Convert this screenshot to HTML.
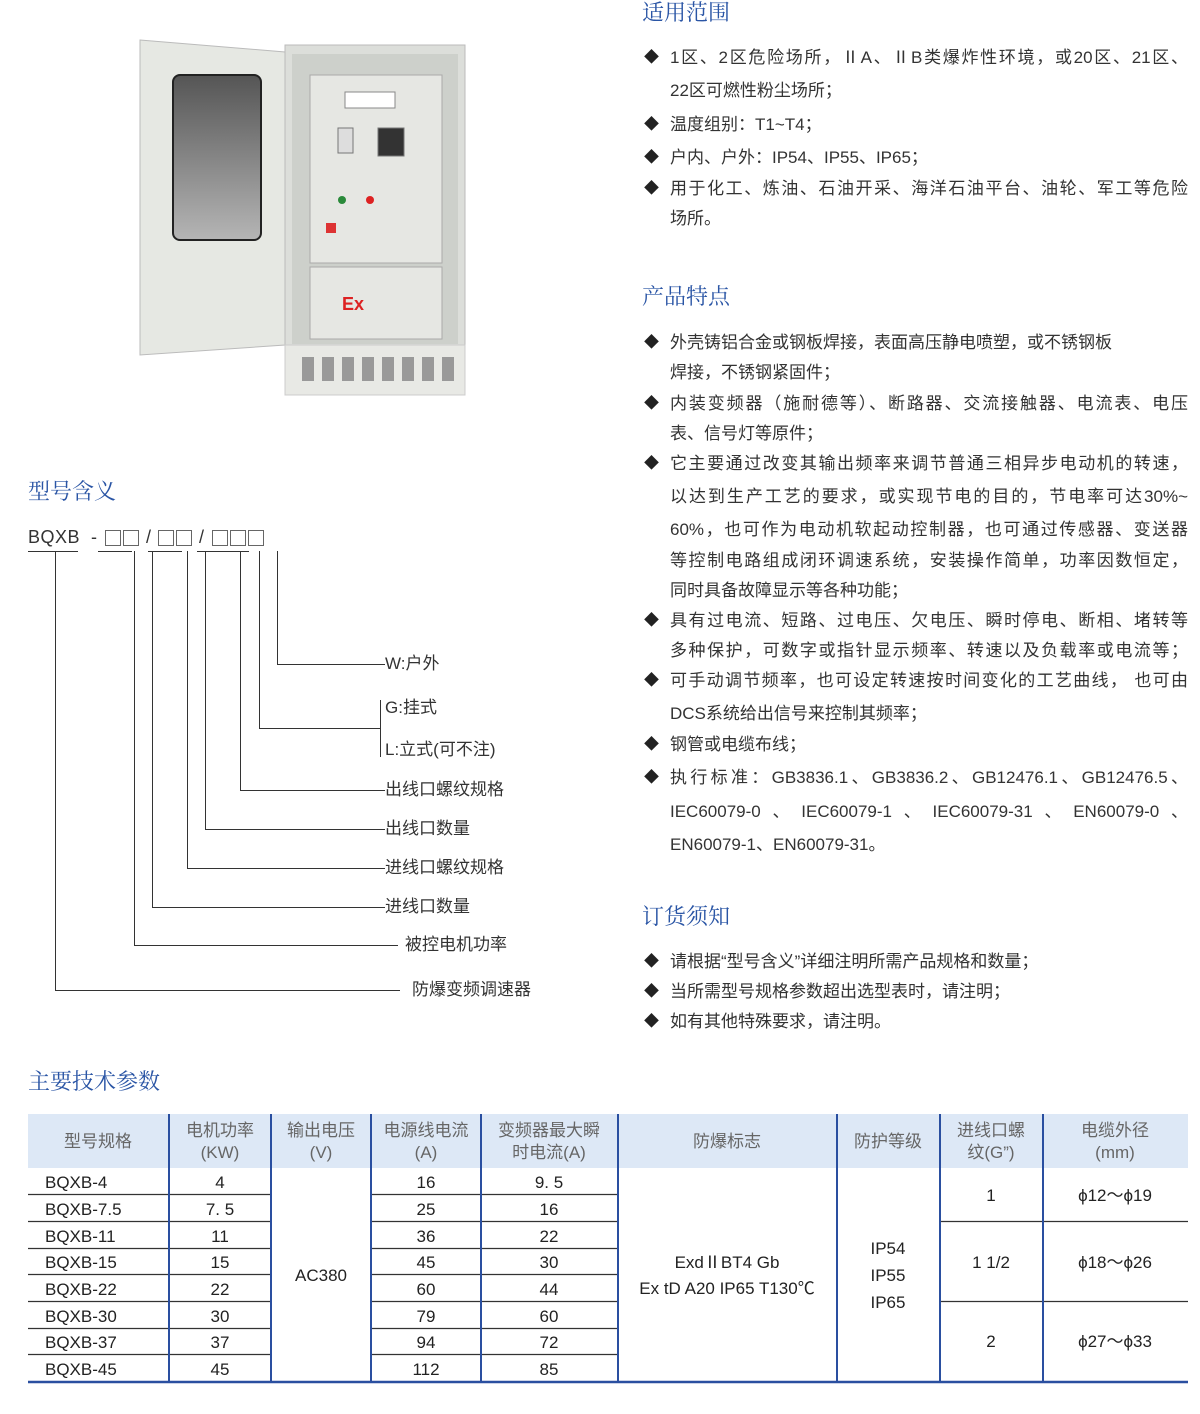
<!DOCTYPE html>
<html><head><meta charset="utf-8"><style>
*{margin:0;padding:0;box-sizing:border-box}
body{width:1200px;height:1414px;background:#fff;position:relative;overflow:hidden;font-family:"Liberation Sans","Noto Sans CJK SC",sans-serif;color:#333}
.a{position:absolute;white-space:nowrap}
.h{position:absolute;font-family:"Liberation Serif","Noto Serif CJK SC",serif;color:#2a55a5;font-size:22px;line-height:26px}
.l{position:absolute;left:670px;font-size:17px;line-height:22px;white-space:nowrap;color:#333}
.j{width:518px;text-align:justify;text-align-last:justify}
.d{position:absolute;left:644px;font-size:15px;line-height:22px;color:#222}
.ln{position:absolute;background:#333}
.lb{position:absolute;font-size:17px;line-height:22px;white-space:nowrap;color:#333}
.bx{position:absolute;top:530px;width:16px;height:16px;border:1px solid #666}
</style></head><body>

<!-- cabinet -->
<svg class="a" style="left:130px;top:30px" width="350" height="380" viewBox="0 0 350 380">
 <defs><linearGradient id="g" x1="0" y1="0" x2="0" y2="1"><stop offset="0" stop-color="#555"/><stop offset="1" stop-color="#b5b5b5"/></linearGradient></defs>
 <polygon points="10,10 155,22 155,315 10,325" fill="#e6e8e3" stroke="#bbb"/>
 <rect x="43" y="45" width="88" height="165" rx="7" fill="url(#g)" stroke="#222" stroke-width="2"/>
 <rect x="155" y="15" width="180" height="300" fill="#dcdeda" stroke="#bbb"/>
 <rect x="162" y="24" width="166" height="290" fill="#cdd0cb"/>
 <rect x="180" y="45" width="132" height="188" fill="#e6e7e3" stroke="#aaa"/>
 <rect x="180" y="237" width="132" height="72" fill="#e6e7e3" stroke="#aaa"/>
 <rect x="215" y="62" width="50" height="16" fill="#fff" stroke="#888"/>
 <rect x="208" y="98" width="15" height="25" fill="#ddd" stroke="#777"/>
 <rect x="248" y="98" width="26" height="28" fill="#333" stroke="#777"/>
 <circle cx="212" cy="170" r="4" fill="#2a8a3a"/><circle cx="240" cy="170" r="4" fill="#d22"/>
 <rect x="196" y="193" width="10" height="10" fill="#d33"/>
 <text x="212" y="280" fill="#d22" font-size="18" font-weight="bold" font-family="Liberation Sans">Ex</text>
 <rect x="155" y="315" width="180" height="50" fill="#e8e9e5" stroke="#ccc"/>
 <g fill="#999"><rect x="172" y="327" width="12" height="24"/><rect x="192" y="327" width="12" height="24"/><rect x="212" y="327" width="12" height="24"/><rect x="232" y="327" width="12" height="24"/><rect x="252" y="327" width="12" height="24"/><rect x="272" y="327" width="12" height="24"/><rect x="292" y="327" width="12" height="24"/><rect x="312" y="327" width="12" height="24"/></g>
</svg>

<!-- right sections -->
<div class="h" style="left:642px;top:0px">适用范围</div>
<div class="d" style="top:47px">◆</div><div class="l j" style="top:47px">1区、2区危险场所，ⅡA、ⅡB类爆炸性环境，或20区、21区、</div>
<div class="l" style="top:80px">22区可燃性粉尘场所；</div>
<div class="d" style="top:114px">◆</div><div class="l" style="top:114px">温度组别：T1~T4；</div>
<div class="d" style="top:147px">◆</div><div class="l" style="top:147px">户内、户外：IP54、IP55、IP65；</div>
<div class="d" style="top:178px">◆</div><div class="l j" style="top:178px">用于化工、炼油、石油开采、海洋石油平台、油轮、军工等危险</div>
<div class="l" style="top:208px">场所。</div>

<div class="h" style="left:642px;top:284px">产品特点</div>
<div class="d" style="top:332px">◆</div><div class="l" style="top:332px">外壳铸铝合金或钢板焊接，表面高压静电喷塑，或不锈钢板</div>
<div class="l" style="top:362px">焊接，不锈钢紧固件；</div>
<div class="d" style="top:393px">◆</div><div class="l j" style="top:393px">内装变频器（施耐德等）、断路器、交流接触器、电流表、电压</div>
<div class="l" style="top:423px">表、信号灯等原件；</div>
<div class="d" style="top:453px">◆</div><div class="l j" style="top:453px">它主要通过改变其输出频率来调节普通三相异步电动机的转速，</div>
<div class="l j" style="top:486px">以达到生产工艺的要求，或实现节电的目的，节电率可达30%~</div>
<div class="l j" style="top:519px">60%，也可作为电动机软起动控制器，也可通过传感器、变送器</div>
<div class="l j" style="top:550px">等控制电路组成闭环调速系统，安装操作简单，功率因数恒定，</div>
<div class="l" style="top:580px">同时具备故障显示等各种功能；</div>
<div class="d" style="top:610px">◆</div><div class="l j" style="top:610px">具有过电流、短路、过电压、欠电压、瞬时停电、断相、堵转等</div>
<div class="l j" style="top:640px">多种保护，可数字或指针显示频率、转速以及负载率或电流等；</div>
<div class="d" style="top:670px">◆</div><div class="l j" style="top:670px">可手动调节频率，也可设定转速按时间变化的工艺曲线，&nbsp;也可由</div>
<div class="l" style="top:703px">DCS系统给出信号来控制其频率；</div>
<div class="d" style="top:734px">◆</div><div class="l" style="top:734px">钢管或电缆布线；</div>
<div class="d" style="top:767px">◆</div><div class="l j" style="top:767px">执行标准：GB3836.1、GB3836.2、GB12476.1、GB12476.5、</div>
<div class="l j" style="top:801px">IEC60079-0、IEC60079-1、IEC60079-31、EN60079-0、</div>
<div class="l" style="top:834px">EN60079-1、EN60079-31。</div>

<div class="h" style="left:642px;top:904px">订货须知</div>
<div class="d" style="top:951px">◆</div><div class="l" style="top:951px">请根据“型号含义”详细注明所需产品规格和数量；</div>
<div class="d" style="top:981px">◆</div><div class="l" style="top:981px">当所需型号规格参数超出选型表时，请注明；</div>
<div class="d" style="top:1011px">◆</div><div class="l" style="top:1011px">如有其他特殊要求，请注明。</div>

<!-- model meaning -->
<div class="h" style="left:28px;top:479px">型号含义</div>
<div class="lb" style="left:28px;top:526px;font-size:18px;letter-spacing:0.5px">BQXB&nbsp;&nbsp;-</div>
<div class="bx" style="left:105px"></div><div class="bx" style="left:123px"></div>
<div class="lb" style="left:146px;top:526px;font-size:18px">/</div>
<div class="bx" style="left:158px"></div><div class="bx" style="left:176px"></div>
<div class="lb" style="left:199px;top:526px;font-size:18px">/</div>
<div class="bx" style="left:212px"></div><div class="bx" style="left:230px"></div><div class="bx" style="left:248px"></div>
<!-- underlines -->
<div class="ln" style="left:28px;top:551px;width:50px;height:1px"></div>
<div class="ln" style="left:98px;top:551px;width:34px;height:1px"></div>
<div class="ln" style="left:148px;top:551px;width:34px;height:1px"></div>
<div class="ln" style="left:197px;top:551px;width:52px;height:1px"></div>
<!-- verticals -->
<div class="ln" style="left:55px;top:551px;width:1px;height:440px"></div>
<div class="ln" style="left:55px;top:990px;width:345px;height:1px"></div>
<div class="ln" style="left:134px;top:551px;width:1px;height:395px"></div>
<div class="ln" style="left:134px;top:945px;width:264px;height:1px"></div>
<div class="ln" style="left:152px;top:551px;width:1px;height:357px"></div>
<div class="ln" style="left:152px;top:907px;width:233px;height:1px"></div>
<div class="ln" style="left:187px;top:551px;width:1px;height:318px"></div>
<div class="ln" style="left:187px;top:868px;width:198px;height:1px"></div>
<div class="ln" style="left:205px;top:551px;width:1px;height:279px"></div>
<div class="ln" style="left:205px;top:829px;width:180px;height:1px"></div>
<div class="ln" style="left:240px;top:551px;width:1px;height:240px"></div>
<div class="ln" style="left:240px;top:790px;width:145px;height:1px"></div>
<div class="ln" style="left:259px;top:551px;width:1px;height:178px"></div>
<div class="ln" style="left:259px;top:728px;width:121px;height:1px"></div>
<div class="ln" style="left:380px;top:700px;width:1px;height:57px"></div>
<div class="ln" style="left:277px;top:551px;width:1px;height:113px"></div>
<div class="ln" style="left:277px;top:664px;width:108px;height:1px"></div>
<div class="lb" style="left:385px;top:653px">W:户外</div>
<div class="lb" style="left:385px;top:697px">G:挂式</div>
<div class="lb" style="left:385px;top:739px">L:立式(可不注)</div>
<div class="lb" style="left:385px;top:779px">出线口螺纹规格</div>
<div class="lb" style="left:385px;top:818px">出线口数量</div>
<div class="lb" style="left:385px;top:857px">进线口螺纹规格</div>
<div class="lb" style="left:385px;top:896px">进线口数量</div>
<div class="lb" style="left:405px;top:934px">被控电机功率</div>
<div class="lb" style="left:412px;top:979px">防爆变频调速器</div>

<!-- table -->
<div class="h" style="left:28px;top:1069px">主要技术参数</div>
<div class="a" style="left:28px;top:1114px;width:1160px;height:54px;background:#dde8f6"></div>
<svg class="a" style="left:0;top:0" width="1200" height="1414">
 <g stroke="#333" stroke-width="1.2">
  <line x1="28" y1="1194.5" x2="270" y2="1194.5"/><line x1="370" y1="1194.5" x2="617" y2="1194.5"/>
  <line x1="28" y1="1221.5" x2="270" y2="1221.5"/><line x1="370" y1="1221.5" x2="617" y2="1221.5"/>
  <line x1="28" y1="1248.5" x2="270" y2="1248.5"/><line x1="370" y1="1248.5" x2="617" y2="1248.5"/>
  <line x1="28" y1="1274.5" x2="270" y2="1274.5"/><line x1="370" y1="1274.5" x2="617" y2="1274.5"/>
  <line x1="28" y1="1301.5" x2="270" y2="1301.5"/><line x1="370" y1="1301.5" x2="617" y2="1301.5"/>
  <line x1="28" y1="1328.5" x2="270" y2="1328.5"/><line x1="370" y1="1328.5" x2="617" y2="1328.5"/>
  <line x1="28" y1="1354.5" x2="270" y2="1354.5"/><line x1="370" y1="1354.5" x2="617" y2="1354.5"/>
  <line x1="940" y1="1221.5" x2="1188" y2="1221.5"/><line x1="940" y1="1301.5" x2="1188" y2="1301.5"/>
 </g>
 <g stroke="#2a4fa0" stroke-width="2">
  <line x1="169" y1="1114" x2="169" y2="1381"/><line x1="271" y1="1114" x2="271" y2="1381"/>
  <line x1="371" y1="1114" x2="371" y2="1381"/><line x1="481" y1="1114" x2="481" y2="1381"/>
  <line x1="618" y1="1114" x2="618" y2="1381"/><line x1="837" y1="1114" x2="837" y2="1381"/>
  <line x1="940" y1="1114" x2="940" y2="1381"/><line x1="1043" y1="1114" x2="1043" y2="1381"/>
 </g>
 <line x1="28" y1="1382" x2="1188" y2="1382" stroke="#2a4fa0" stroke-width="2.5"/>
 <g font-family="Liberation Sans, Noto Sans CJK SC, sans-serif" font-size="17" fill="#666" text-anchor="middle">
  <text x="98" y="1147">型号规格</text>
  <text x="220" y="1136">电机功率</text><text x="220" y="1158">(KW)</text>
  <text x="321" y="1136">输出电压</text><text x="321" y="1158">(V)</text>
  <text x="426" y="1136">电源线电流</text><text x="426" y="1158">(A)</text>
  <text x="549" y="1136">变频器最大瞬</text><text x="549" y="1158">时电流(A)</text>
  <text x="727" y="1147">防爆标志</text>
  <text x="888" y="1147">防护等级</text>
  <text x="991" y="1136">进线口螺</text><text x="991" y="1158">纹(G”)</text>
  <text x="1115" y="1136">电缆外径</text><text x="1115" y="1158">(mm)</text>
 </g>
 <g font-family="Liberation Sans, Noto Sans CJK SC, sans-serif" font-size="17" fill="#222">
  <g text-anchor="start">
   <text x="45" y="1188">BQXB-4</text><text x="45" y="1215">BQXB-7.5</text><text x="45" y="1242">BQXB-11</text><text x="45" y="1268">BQXB-15</text>
   <text x="45" y="1295">BQXB-22</text><text x="45" y="1322">BQXB-30</text><text x="45" y="1348">BQXB-37</text><text x="45" y="1375">BQXB-45</text>
  </g>
  <g text-anchor="middle">
   <text x="220" y="1188">4</text><text x="220" y="1215">7. 5</text><text x="220" y="1242">11</text><text x="220" y="1268">15</text>
   <text x="220" y="1295">22</text><text x="220" y="1322">30</text><text x="220" y="1348">37</text><text x="220" y="1375">45</text>
   <text x="321" y="1281">AC380</text>
   <text x="426" y="1188">16</text><text x="426" y="1215">25</text><text x="426" y="1242">36</text><text x="426" y="1268">45</text>
   <text x="426" y="1295">60</text><text x="426" y="1322">79</text><text x="426" y="1348">94</text><text x="426" y="1375">112</text>
   <text x="549" y="1188">9. 5</text><text x="549" y="1215">16</text><text x="549" y="1242">22</text><text x="549" y="1268">30</text>
   <text x="549" y="1295">44</text><text x="549" y="1322">60</text><text x="549" y="1348">72</text><text x="549" y="1375">85</text>
   <text x="727" y="1268">ExdⅡBT4  Gb</text><text x="727" y="1294">Ex tD A20 IP65 T130℃</text>
   <text x="888" y="1254">IP54</text><text x="888" y="1281">IP55</text><text x="888" y="1308">IP65</text>
   <text x="991" y="1201">1</text><text x="991" y="1268">1 1/2</text><text x="991" y="1347">2</text>
   <text x="1115" y="1201">ϕ12～ϕ19</text><text x="1115" y="1268">ϕ18～ϕ26</text><text x="1115" y="1347">ϕ27～ϕ33</text>
  </g>
 </g>
</svg>
</body></html>
